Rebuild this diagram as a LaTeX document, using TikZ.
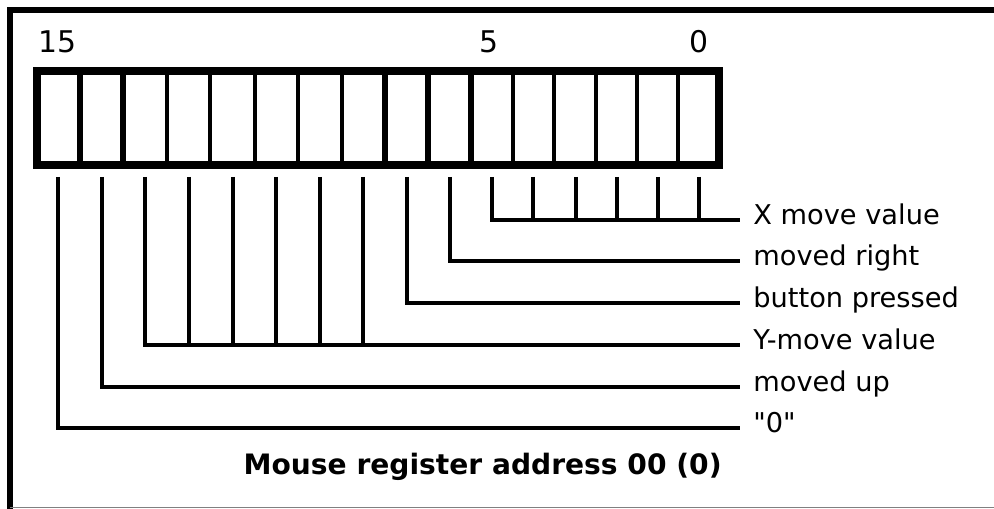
\documentclass[tikz,border=0pt]{standalone}
\usepackage{fontspec}
\setmainfont{DejaVu Sans}
\usetikzlibrary{positioning}

\tikzset{
    frameline/.style={line width=3.8pt},
    regbox/.style={line width=4pt},
    fieldsep/.style={line width=3pt},
    bitsep/.style={line width=1.9pt},
    leader/.style={line width=2.1pt},
    bitnum/.style={anchor=base, inner sep=0pt, font=\fontsize{17}{17}\selectfont},
    fieldlbl/.style={anchor=west, inner xsep=0.26cm, inner ysep=0pt,
        text height=0.75em, text depth=0.2em, font=\fontsize{15.5}{15.5}\selectfont},
    titlelbl/.style={anchor=base east, inner sep=0pt, font=\fontsize{16}{16}\selectfont\bfseries},
}

\begin{document}
\begin{tikzpicture}[x=0.02cm, y=-0.02cm]
    \useasboundingbox (0,0) rectangle (994,509);

    % 外框
    \draw[frameline] (994,10) -- (10,10) -- (10,509);
    \draw[gray, line width=0.8pt] (10,507.5) -- (994,507.5);

    % 寄存器格子
    \foreach \x [count=\k from 0] in {37,80,123,167,210,255,298,342,385,428,471,513,554,596,637,678,719}
        \coordinate (d\k) at (\x,71);
    \foreach \k in {3,4,5,6,7,11,12,13,14,15}
        \draw[bitsep] (d\k) -- ++(0,94);
    \foreach \k in {1,2,8,9,10}
        \draw[fieldsep] (d\k) -- ++(0,94);
    \draw[regbox] (d0) rectangle (d16 |- 0,165);

    % 位号
    \foreach \x [count=\b from 0] in {699,658,617,576,533,492,450,407,363,320,276,233,189,145,102,58}
        \coordinate (b\b) at (\x,177);
    \node[bitnum] (n15) at (58,53) {15};
    \node[bitnum] (n5) at (489,53) {5};
    \node[bitnum] (n0) at (699,53) {0};

    % 字段说明
    \node[fieldlbl] (lx) at (740,220) {X move value};
    \node[fieldlbl] (lright) at (740,261) {moved right};
    \node[fieldlbl] (lbtn) at (740,303) {button pressed};
    \node[fieldlbl] (ly) at (740,345) {Y-move value};
    \node[fieldlbl] (lup) at (740,387) {moved up};
    \node[fieldlbl] (lzero) at (740,428) {\textquotedbl 0\textquotedbl};

    % 引线
    \draw[leader] (b5) |- (lx.west);
    \foreach \b in {0,...,4}
        \draw[leader] (b\b) -- (b\b |- lx.west);
    \draw[leader] (b6) |- (lright.west);
    \draw[leader] (b7) |- (lbtn.west);
    \draw[leader] (b13) |- (ly.west);
    \foreach \b in {8,...,12}
        \draw[leader] (b\b) -- (b\b |- ly.west);
    \draw[leader] (b14) |- (lup.west);
    \draw[leader] (b15) |- (lzero.west);

    % 标题
    \node[titlelbl] (title) at (722,475) {Mouse register address 00 (0)};
\end{tikzpicture}
\end{document}
